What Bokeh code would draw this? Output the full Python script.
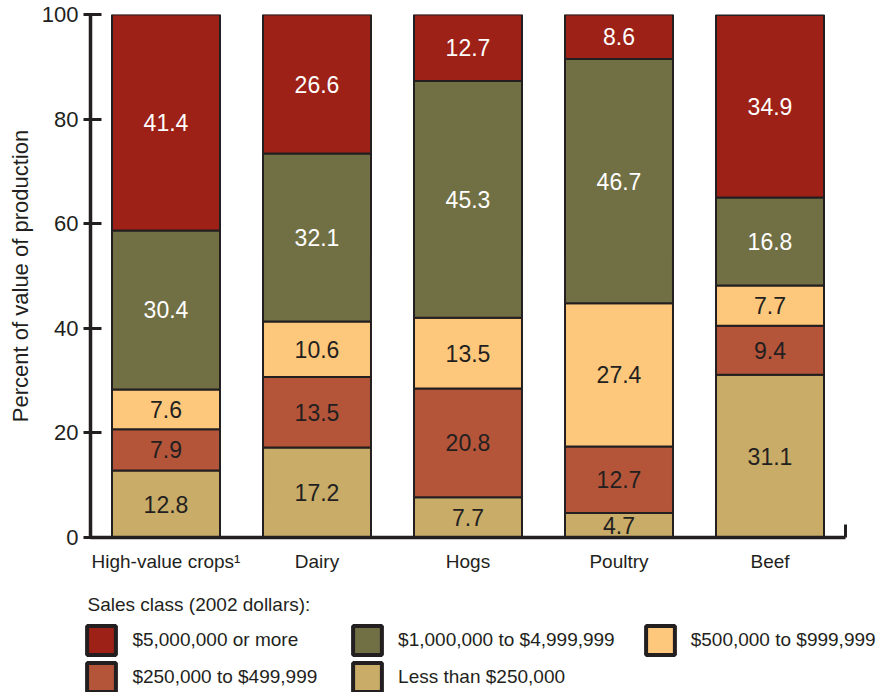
from bokeh.plotting import figure
from bokeh.models import (Range1d, LinearAxis, FixedTicker, ColumnDataSource,
                          Legend, LegendItem, Label)
from bokeh.layouts import column
from bokeh.core.properties import value
from bokeh.embed import file_html
from bokeh.resources import INLINE

# ---------------- data ----------------
categories = ["High-value crops\u00b9", "Dairy", "Hogs", "Poultry", "Beef"]
classes = ["Less than $250,000", "$250,000 to $499,999", "$500,000 to $999,999",
           "$1,000,000 to $4,999,999", "$5,000,000 or more"]
less_than_250k = [12.8, 17.2, 7.7, 4.7, 31.1]
from_250k_to_499k = [7.9, 13.5, 20.8, 12.7, 9.4]
from_500k_to_999k = [7.6, 10.6, 13.5, 27.4, 7.7]
from_1m_to_4_9m = [30.4, 32.1, 45.3, 46.7, 16.8]
over_5m = [41.4, 26.6, 12.7, 8.6, 34.9]
y_ticks = [0, 20, 40, 60, 80, 100]
legend_title = "Sales class (2002 dollars):"
y_label = "Percent of value of production"

series = [less_than_250k, from_250k_to_499k, from_500k_to_999k, from_1m_to_4_9m, over_5m]
colors = ["#C8AC68", "#B45539", "#FEC87C", "#717044", "#9D2116"]
label_colors = ["#231F20", "#231F20", "#231F20", "#FFFFFF", "#FFFFFF"]

FONT = "Liberation Sans"
INK = "#231F20"
W = 876

# ---------------- chart ----------------
p = figure(width=W, height=580, x_range=Range1d(0, len(categories)), y_range=Range1d(0, 100),
           output_backend="svg", toolbar_location=None, x_axis_type=None, y_axis_type=None,
           min_border_left=90, min_border_right=31, min_border_top=14, min_border_bottom=43,
           frame_align=False)
p.outline_line_color = None
p.xgrid.visible = False
p.ygrid.visible = False

xs = [i + 0.5 for i in range(len(categories))]
bottoms = [0.0] * len(categories)
sources = {}
for name, vals, col, tcol in zip(classes, series, colors, label_colors):
    tops = [b + v for b, v in zip(bottoms, vals)]
    mids = [b + v / 2 for b, v in zip(bottoms, vals)]
    src = ColumnDataSource(dict(x=xs, bottom=bottoms, top=tops, mid=mids,
                                txt=[f"{v:.1f}" for v in vals]))
    sources[name] = src
    p.vbar(x="x", bottom="bottom", top="top", width=0.715, source=src,
           fill_color=col, line_color=INK, line_width=2)
    p.text(x="x", y="mid", text="txt", source=src, text_align="center",
           text_baseline="middle", text_color=tcol, text_font=value(FONT),
           text_font_size="23px")
    bottoms = tops

yaxis = LinearAxis(ticker=FixedTicker(ticks=y_ticks, minor_ticks=[]))
yaxis.axis_line_width = 3.5
yaxis.axis_line_color = INK
yaxis.major_tick_line_width = 3
yaxis.major_tick_line_color = INK
yaxis.major_tick_in = 11
yaxis.major_tick_out = 7
yaxis.minor_tick_in = 0
yaxis.minor_tick_out = 0
yaxis.major_label_standoff = 5
yaxis.major_label_text_font = FONT
yaxis.major_label_text_font_size = "22px"
yaxis.major_label_text_color = INK
yaxis.axis_label = y_label
yaxis.axis_label_text_font = FONT
yaxis.axis_label_text_font_size = "22px"
yaxis.axis_label_text_font_style = "normal"
yaxis.axis_label_text_color = INK
yaxis.axis_label_standoff = 6
p.add_layout(yaxis, "left")

xaxis = LinearAxis(ticker=FixedTicker(ticks=xs, minor_ticks=[float(len(categories))]))
xaxis.major_label_overrides = {x: c for x, c in zip(xs, categories)}
xaxis.axis_line_width = 3.5
xaxis.axis_line_color = INK
xaxis.major_tick_in = 0
xaxis.major_tick_out = 0
xaxis.minor_tick_in = 13
xaxis.minor_tick_out = 0
xaxis.minor_tick_line_width = 3
xaxis.minor_tick_line_color = INK
xaxis.major_label_standoff = 13
xaxis.major_label_text_font = FONT
xaxis.major_label_text_font_size = "19px"
xaxis.major_label_text_color = INK
p.add_layout(xaxis, "below")

# ---------------- legend panel ----------------
LH = 112
lg = figure(width=W, height=LH, x_range=Range1d(0, W), y_range=Range1d(0, LH),
            output_backend="svg", toolbar_location=None, x_axis_type=None, y_axis_type=None,
            min_border=0, min_border_left=0, min_border_right=0, min_border_top=0,
            min_border_bottom=0, frame_align=False)
lg.outline_line_color = None
lg.xgrid.visible = False
lg.ygrid.visible = False

swatches = {}
for name, col in zip(classes, colors):
    swatches[name] = lg.vbar(x="x", bottom="bottom", top="top", width=0.715,
                             source=sources[name], fill_color=col, line_color=INK,
                             line_width=4, visible=False)

lg.add_layout(Label(x=87, y=LH - 23.5, text=legend_title, text_baseline="middle",
                    text_font=FONT, text_font_size="19px", text_color=INK))

cols = [(["$5,000,000 or more", "$250,000 to $499,999"], (83.4, -3)),
        (["$1,000,000 to $4,999,999", "Less than $250,000"], (349.1, -3)),
        (["$500,000 to $999,999"], (641.7, 34))]
for names, loc in cols:
    leg = Legend(items=[LegendItem(label=n, renderers=[swatches[n]]) for n in names],
                 location=loc, orientation="vertical", glyph_width=36, glyph_height=36,
                 label_standoff=13, spacing=1, padding=0, margin=0,
                 border_line_alpha=0, background_fill_alpha=0,
                 label_text_font=FONT, label_text_font_size="19px", label_text_color=INK)
    lg.add_layout(leg, "center")

layout = column(p, lg, spacing=0)
open("out.html", "w").write(file_html(layout, INLINE))
